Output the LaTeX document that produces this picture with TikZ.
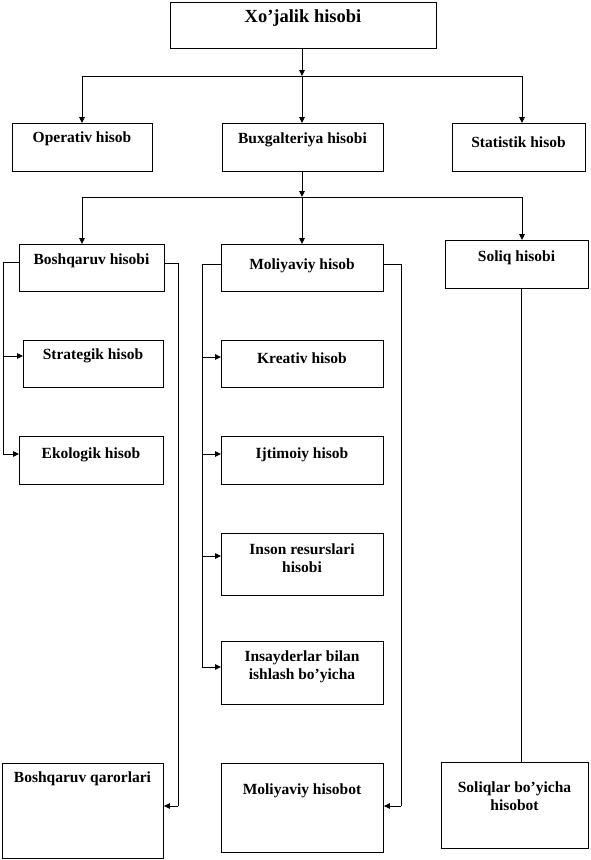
\documentclass[tikz,border=0pt]{standalone}
\usepackage{fontspec}
\setmainfont{Liberation Serif}
\usetikzlibrary{arrows.meta}
\tikzset{
  box/.style={draw, line width=0.9pt, anchor=north west, inner sep=0pt},
  lbl/.style={font=\bfseries\fontsize{15.5}{18}\selectfont, align=center, inner sep=0pt},
  ttl/.style={font=\bfseries\fontsize{18.5}{20}\selectfont, inner sep=0pt},
  con/.style={line width=0.9pt},
  arr/.style={line width=0.9pt, -{Triangle[length=6pt,width=5.5pt]}}
}
\newcommand\bx[8]{%
  \node[box, minimum width={#4-#2}, minimum height={#5-#3}] (#1) at (#2,#3) {};
  \node[#8] (#1t) at ({(#2+#4)/2},#6) {#7};
}
\begin{document}
\begin{tikzpicture}[x=1pt,y=-1pt]
\useasboundingbox (0,0) rectangle (590,860);
% boxes
\bx{top}{170}{2}{436}{48}{18}{Xo’jalik hisobi}{ttl}
\bx{op}{12}{123}{152}{171}{139}{Operativ hisob}{lbl}
\bx{bx}{222}{123}{383}{171}{139.5}{Buxgalteriya hisobi}{lbl}
\bx{st}{452}{123}{585}{171}{142}{Statistik hisob}{lbl}
\bx{bq}{19}{244}{164}{291}{260.5}{Boshqaruv hisobi}{lbl}
\bx{mo}{221}{244}{383}{291}{265.5}{Moliyaviy hisob}{lbl}
\bx{sq}{445}{240}{588}{288}{257.5}{Soliq hisobi}{lbl}
\bx{sg}{23}{340}{163}{387}{356}{Strategik hisob}{lbl}
\bx{ek}{19}{436}{163}{484}{455}{Ekologik hisob}{lbl}
\bx{kr}{221}{340}{383}{387}{358.5}{Kreativ hisob}{lbl}
\bx{ij}{221}{436}{383}{484}{455}{Ijtimoiy hisob}{lbl}
\bx{ir}{221}{533}{383}{595}{558.5}{Inson resurslari\\hisobi}{lbl}
\bx{is}{221}{641}{383}{704}{666.5}{Insayderlar bilan\\ishlash bo’yicha}{lbl}
\bx{qr}{2}{763}{163}{858}{778.5}{Boshqaruv qarorlari}{lbl}
\bx{mh}{221}{763}{383}{852}{790.5}{Moliyaviy hisobot}{lbl}
\bx{sh}{441}{762}{588}{848}{796.5}{Soliqlar bo’yicha\\hisobot}{lbl}
% level 1 connectors
\coordinate (j1) at (302,76);
\coordinate (j1L) at (82,76);
\coordinate (j1R) at (522,76);
\draw[arr] (top.south -| j1) -- (j1);
\draw[con] (j1L) -- (j1R);
\draw[arr] (j1L) -- (j1L |- op.north);
\draw[arr] (j1) -- (j1 |- bx.north);
\draw[arr] (j1R) -- (j1R |- st.north);
% level 2 connectors
\coordinate (j2) at (302,197);
\coordinate (j2L) at (82,197);
\coordinate (j2R) at (522,197);
\draw[arr] (bx.south -| j2) -- (j2);
\draw[con] (j2L) -- (j2R);
\draw[arr] (j2L) -- (j2L |- bq.north);
\draw[arr] (j2) -- (j2 |- mo.north);
\draw[arr] (j2R) -- (j2R |- sq.north);
% Boshqaruv hisobi branches
\coordinate (bqa) at (3,262);
\coordinate (bqb) at (3,454);
\draw[con] ([yshift=-18pt]bq.north west) -- (bqa) -- (bqb);
\draw[arr] (bqb) -- ([yshift=-18pt]ek.north west);
\draw[arr] (bqa |- sg.north west) ++(0,16) -- ([yshift=-16pt]sg.north west);
\coordinate (bqc) at (178,263);
\coordinate (bqd) at (178,806);
\draw[con] ([yshift=-19pt]bq.north east) -- (bqc) -- (bqd);
\draw[arr] (bqd) -- ([yshift=-43pt]qr.north east);
% Moliyaviy hisob branches
\coordinate (moa) at (202,264);
\coordinate (mob) at (202,667);
\draw[con] ([yshift=-20pt]mo.north west) -- (moa) -- (mob);
\draw[arr] (moa |- kr.north west) ++(0,17) -- ([yshift=-17pt]kr.north west);
\draw[arr] (moa |- ij.north west) ++(0,18) -- ([yshift=-18pt]ij.north west);
\draw[arr] (moa |- ir.north west) ++(0,23) -- ([yshift=-23pt]ir.north west);
\draw[arr] (mob) -- ([yshift=-26pt]is.north west);
\coordinate (moc) at (401,264);
\coordinate (mod) at (401,806);
\draw[con] ([yshift=-20pt]mo.north east) -- (moc) -- (mod);
\draw[arr] (mod) -- ([yshift=-43pt]mh.north east);
% Soliq hisobi
\coordinate (sqa) at (521,288);
\draw[con] (sqa) -- (sqa |- sh.north);
\end{tikzpicture}
\end{document}
